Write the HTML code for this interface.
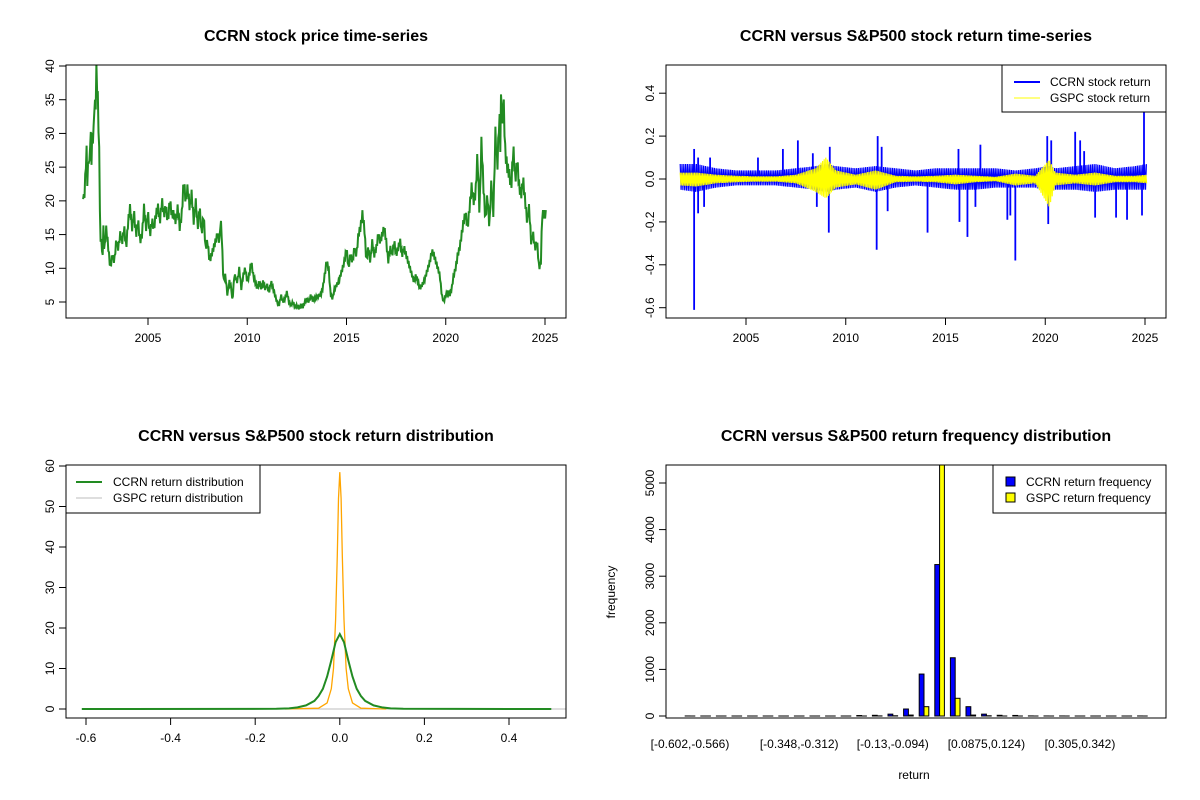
<!DOCTYPE html>
<html><head><meta charset="utf-8"><style>
html,body{margin:0;padding:0;background:#fff;}
svg{display:block;font-family:"Liberation Sans",Arial,sans-serif;}
</style></head><body>
<svg id="fig" width="1200" height="800" viewBox="0 0 1200 800" xmlns="http://www.w3.org/2000/svg">
<defs>
<clipPath id="c1"><rect x="66" y="65" width="500" height="253"/></clipPath>
<clipPath id="c2"><rect x="666" y="65" width="500" height="253"/></clipPath>
<clipPath id="c3"><rect x="66" y="465" width="500" height="253"/></clipPath>
<clipPath id="c4"><rect x="666" y="465" width="500" height="253"/></clipPath>
</defs>
<text x="316" y="41" text-anchor="middle" font-size="16" font-weight="bold">CCRN stock price time-series</text>
<text x="916" y="41" text-anchor="middle" font-size="16" font-weight="bold">CCRN versus S&amp;P500 stock return time-series</text>
<text x="316" y="441" text-anchor="middle" font-size="16" font-weight="bold">CCRN versus S&amp;P500 stock return distribution</text>
<text x="916" y="441" text-anchor="middle" font-size="16" font-weight="bold">CCRN versus S&amp;P500 return frequency distribution</text>
<g id="p1"></g>
<g id="p2"></g>
<g id="p3"></g>
<g id="p4"></g>
</svg>
<script>
// ---- Panel 1 data: CCRN price as [year, price] pairs ----
const priceData = [
[2001.73,21],[2001.78,20],[2001.85,24],[2001.9,28],[2001.95,22],[2002.0,27],[2002.05,25],[2002.1,31],[2002.15,26],[2002.2,30],[2002.25,29],[2002.3,35],[2002.35,33],[2002.4,39],[2002.45,37],[2002.5,32],[2002.55,26],[2002.6,13],
[2002.65,15],[2002.7,10.5],[2002.75,16],[2002.8,12.5],[2002.9,16],[2003.0,13],[2003.1,10],[2003.2,12],[2003.3,11],[2003.4,14],[2003.5,13],[2003.6,15],[2003.7,14],[2003.8,16],[2003.9,13],
[2004.0,17],[2004.1,19],[2004.2,16],[2004.3,18],[2004.4,15],[2004.5,17],[2004.6,14],[2004.7,15],[2004.8,19],[2004.9,16],[2005.0,18],[2005.1,15],[2005.2,17],[2005.3,16],[2005.4,18],[2005.5,19],[2005.6,17],[2005.7,20],[2005.8,18],[2005.9,19],
[2006.0,17],[2006.1,20],[2006.2,18],[2006.3,18],[2006.4,17],[2006.5,19],[2006.6,16],[2006.7,18],[2006.8,23],[2006.9,20],[2007.0,22],[2007.1,19],[2007.2,21],[2007.3,17],[2007.4,20],[2007.5,16],[2007.6,19],[2007.7,15],[2007.8,18],[2007.9,13],
[2008.0,14],[2008.1,11],[2008.2,12],[2008.3,13],[2008.4,14],[2008.5,15],[2008.6,14],[2008.65,17],[2008.7,16],[2008.75,12],[2008.8,8],[2008.9,9],[2009.0,6],[2009.1,8],[2009.2,7],[2009.25,5],[2009.35,9],[2009.5,8],[2009.6,10],[2009.7,7],[2009.8,9],[2009.9,10],
[2010.0,8],[2010.1,9],[2010.2,11],[2010.3,9],[2010.4,8],[2010.5,7],[2010.6,8],[2010.7,7],[2010.8,8],[2010.9,7],[2011.0,7.5],[2011.1,6.5],[2011.2,8],[2011.3,7],[2011.4,6],[2011.5,5],[2011.6,4.5],[2011.7,6],[2011.8,5],[2011.9,5.5],
[2012.0,6.5],[2012.1,5],[2012.2,4.5],[2012.3,5],[2012.4,4.2],[2012.5,4.5],[2012.6,4],[2012.7,4.6],[2012.8,4.2],[2012.9,5],[2013.0,5.5],[2013.1,5],[2013.2,6],[2013.3,5.2],[2013.4,5.5],[2013.5,5.8],[2013.6,6],[2013.7,6],[2013.8,7],[2013.9,9],
[2014.0,11],[2014.1,10],[2014.2,6],[2014.3,5.5],[2014.4,7],[2014.5,7.5],[2014.6,8],[2014.7,9],[2014.8,10],[2014.9,11],[2015.0,13],[2015.1,10],[2015.2,12],[2015.3,11],[2015.4,13],[2015.5,12],[2015.6,15],[2015.7,16],[2015.8,18],[2015.9,16],
[2016.0,11],[2016.1,13],[2016.2,11],[2016.3,14],[2016.4,12],[2016.5,13],[2016.6,15],[2016.7,14],[2016.8,15],[2016.9,16],[2017.0,14],[2017.1,11],[2017.2,13],[2017.3,12],[2017.4,14],[2017.5,12],[2017.6,13],[2017.7,14],[2017.8,12],[2017.9,13],
[2018.0,12],[2018.1,11],[2018.2,10],[2018.3,9],[2018.4,8],[2018.5,9],[2018.6,8],[2018.7,7],[2018.8,7.5],[2018.9,8],[2019.0,9],[2019.1,10],[2019.2,11],[2019.3,12.5],[2019.4,12],[2019.5,11],[2019.6,10],[2019.7,9],[2019.8,6],[2019.9,5],
[2020.0,6],[2020.1,6.5],[2020.2,6],[2020.3,7],[2020.4,9],[2020.5,10],[2020.6,12],[2020.7,13],[2020.8,15],[2020.9,17],[2021.0,18],[2021.1,16],[2021.2,19],[2021.3,22],[2021.4,20],[2021.5,21],[2021.6,27],[2021.7,18],[2021.8,29],[2021.9,22],
[2022.0,17],[2022.1,21],[2022.2,16],[2022.3,23],[2022.4,18],[2022.5,30],[2022.6,25],[2022.7,33],[2022.75,28],[2022.8,38],[2022.85,30],[2022.9,36],[2023.0,27],[2023.1,25],[2023.2,24],[2023.3,22],[2023.4,28],[2023.5,23],[2023.6,26],[2023.7,22],
[2023.8,21],[2023.9,23],[2024.0,20],[2024.1,17],[2024.2,19],[2024.3,14],[2024.4,15],[2024.5,13],[2024.6,14],[2024.7,10],[2024.8,11],[2024.85,18],[2024.95,18],[2025.05,18]];

// ---- Panel 2 data: returns ----
const ccrnSpikeYears = [2002.4,2002.6,2003.2,2005.6,2006.85,2007.6,2008.35,2009.2,2011.6,2011.8,2015.65,2016.75,2020.1,2020.3,2021.5,2021.75,2021.95,2024.95,2002.4,2002.6,2002.9,2008.55,2009.15,2011.55,2012.1,2014.1,2015.7,2016.1,2016.5,2018.1,2018.25,2018.5,2020.15,2022.5,2023.55,2024.1,2024.85];
const ccrnSpikeValues = [0.14,0.10,0.10,0.10,0.14,0.18,0.12,0.15,0.20,0.15,0.14,0.16,0.20,0.18,0.22,0.18,0.13,0.32,-0.61,-0.16,-0.13,-0.13,-0.25,-0.33,-0.15,-0.25,-0.20,-0.27,-0.13,-0.19,-0.17,-0.38,-0.21,-0.18,-0.18,-0.19,-0.17];
const bandYears = [2001.7,2002.5,2003.5,2004.5,2005.5,2006.5,2007.5,2008.5,2009.0,2009.5,2010.5,2011.5,2012.5,2013.5,2014.5,2015.5,2016.5,2017.5,2018.5,2019.5,2020.2,2020.5,2021.5,2022.5,2023.5,2024.5,2025.1];
const ccrnBandUp = [0.07,0.07,0.05,0.04,0.04,0.04,0.05,0.06,0.07,0.06,0.05,0.06,0.05,0.04,0.05,0.05,0.05,0.05,0.04,0.05,0.06,0.05,0.06,0.07,0.05,0.06,0.07];
const ccrnBandDn = [-0.05,-0.06,-0.04,-0.03,-0.03,-0.03,-0.04,-0.05,-0.06,-0.05,-0.04,-0.06,-0.04,-0.03,-0.04,-0.05,-0.05,-0.04,-0.04,-0.04,-0.06,-0.05,-0.05,-0.06,-0.05,-0.05,-0.05];
const gspcBandUp = [0.03,0.03,0.02,0.015,0.012,0.012,0.02,0.05,0.1,0.04,0.02,0.04,0.015,0.012,0.015,0.02,0.015,0.01,0.025,0.015,0.09,0.03,0.02,0.03,0.015,0.015,0.02];
const gspcBandDn = [-0.03,-0.035,-0.02,-0.015,-0.012,-0.012,-0.02,-0.06,-0.09,-0.04,-0.025,-0.05,-0.015,-0.012,-0.015,-0.025,-0.015,-0.01,-0.03,-0.02,-0.13,-0.03,-0.02,-0.03,-0.015,-0.015,-0.02];

// ---- Panel 3 data: densities ----
const ccrnDensX = [-0.61,-0.15,-0.12,-0.1,-0.08,-0.06,-0.05,-0.04,-0.03,-0.02,-0.01,0,0.01,0.02,0.03,0.04,0.05,0.06,0.08,0.1,0.12,0.15,0.5];
const ccrnDensY = [0,0.05,0.15,0.4,0.9,2,3.2,5,8,12,16.5,18.5,16.5,12,8,5,3.2,2,0.9,0.4,0.15,0.05,0];
const gspcDensX = [-0.13,-0.05,-0.03,-0.02,-0.015,-0.01,-0.006,-0.003,0,0.003,0.006,0.01,0.015,0.02,0.03,0.05,0.11];
const gspcDensY = [0,0.2,1.5,5,10,22,38,52,58.5,52,38,22,10,5,1.5,0.2,0];

// ---- Panel 4 data: histogram ----
const binLabels = ["[-0.602,-0.566)","[-0.348,-0.312)","[-0.13,-0.094)","[0.0875,0.124)","[0.305,0.342)"];
const binLabelIdx = [0,7,13,19,25];
const ccrnCounts = [1,0,0,0,0,0,0,0,0,0,0,10,15,40,150,900,3250,1250,200,40,15,12,2,1,1,0,0,0,0,1];
const gspcCounts = [0,0,0,0,0,0,0,0,0,0,0,0,2,5,20,200,5400,380,20,5,0,0,0,0,0,0,0,0,0,0];
const freqTicks = [0,1000,2000,3000,4000,5000];

const NS="http://www.w3.org/2000/svg";
function mk(parent,tag,attrs,txt){const e=document.createElementNS(NS,tag);for(const k in attrs)e.setAttribute(k,attrs[k]);if(txt!==undefined)e.textContent=txt;parent.appendChild(e);return e;}
function box(g,x,y,w,h){const r=mk(g,'rect',{x:x,y:y,width:w,height:h,fill:'none',stroke:'#000','stroke-width':1});

}
function yticks(g,vals,fy,x0,fmt){vals.forEach(v=>{const y=fy(v);mk(g,'line',{x1:x0-7,x2:x0,y1:y,y2:y,stroke:'#000'});
const t=mk(g,'text',{x:x0-12,y:y,'font-size':12,'text-anchor':'middle',transform:`rotate(-90 ${x0-12} ${y})`},fmt?fmt(v):String(v));

});}
function xticks(g,vals,fx,y0,fmt){vals.forEach(v=>{const x=fx(v);mk(g,'line',{x1:x,x2:x,y1:y0,y2:y0+7,stroke:'#000'});
const t=mk(g,'text',{x:x,y:y0+24,'font-size':12,'text-anchor':'middle'},fmt?fmt(v):String(v));

});}
function interp(xs,ys,x){if(x<=xs[0])return ys[0];for(let i=1;i<xs.length;i++){if(x<=xs[i]){const t=(x-xs[i-1])/(xs[i]-xs[i-1]);return ys[i-1]+t*(ys[i]-ys[i-1]);}}return ys[ys.length-1];}

// Panel 1
(function(){const g=document.getElementById('p1');
const fx=y=>148+(y-2005)*19.85, fy=v=>302-(v-5)*236/35;
const xs=priceData.map(p=>p[0]), ys=priceData.map(p=>p[1]);
// dense trace between data points with small vertical wiggle to mimic daily noise
let d='',k=0;
for(let px=fx(xs[0]);px<=fx(xs[xs.length-1]);px+=0.7){const yr=2005+(px-148)/19.85;const v=interp(xs,ys,yr);const w=(k%2?1:-1)*v*0.035;d+=(k===0?'M':'L')+px.toFixed(1)+','+fy(v+w).toFixed(1);k++;}
const pl=mk(g,'path',{d:d,fill:'none',stroke:'#228B22','stroke-width':2,'clip-path':'url(#c1)'});


box(g,66,65,500,253);yticks(g,[5,10,15,20,25,30,35,40],fy,66);xticks(g,[2005,2010,2015,2020,2025],fx,318);})();

// Panel 2
(function(){const g=document.getElementById('p2');
const fx=y=>746+(y-2005)*19.95, fy=v=>179-v*214.5;
const gc=mk(g,'g',{'clip-path':'url(#c2)'});
function band(up,dn,color,w,step){let d='';let k=0;for(let x=fx(2001.7);x<=fx(2025.1);x+=step){const yr=2005+(x-746)/19.95;const v=(k%2===0)?interp(bandYears,up,yr):interp(bandYears,dn,yr);d+=(k===0?'M':'L')+x.toFixed(1)+','+fy(v).toFixed(1);k++;}return mk(gc,'path',{d:d,fill:'none',stroke:color,'stroke-width':w});}
const b1=band(ccrnBandUp,ccrnBandDn,'#0000FF',1.2,0.9);


ccrnSpikeYears.forEach((y,i)=>{const l=mk(gc,'line',{x1:fx(y),x2:fx(y),y1:fy(0),y2:fy(ccrnSpikeValues[i]),stroke:'#0000FF','stroke-width':1.8});

});
const b2=band(gspcBandUp,gspcBandDn,'#FFFF00',1.2,0.8);


box(g,666,65,500,253);yticks(g,[-0.6,-0.4,-0.2,0,0.2,0.4],fy,666,v=>v.toFixed(1));xticks(g,[2005,2010,2015,2020,2025],fx,318);
const lg=mk(g,'g',{});
mk(lg,'rect',{x:1002,y:65,width:164,height:47,fill:'#fff',stroke:'#000'});
mk(lg,'line',{x1:1014,x2:1040,y1:82,y2:82,stroke:'#0000FF','stroke-width':2});
mk(lg,'line',{x1:1014,x2:1040,y1:98,y2:98,stroke:'#FFFF00','stroke-width':1});
mk(lg,'text',{x:1050,y:86,'font-size':12},'CCRN stock return');
mk(lg,'text',{x:1050,y:102,'font-size':12},'GSPC stock return');})();

// Panel 3
(function(){const g=document.getElementById('p3');
const fx=v=>86+(v+0.6)*423, fy=d=>709-d*4.05;
const gc=mk(g,'g',{'clip-path':'url(#c3)'});
mk(gc,'line',{x1:fx(-0.13),x2:566,y1:fy(0),y2:fy(0),stroke:'#bebebe','stroke-width':1});
const o=mk(gc,'polyline',{points:gspcDensX.map((x,i)=>fx(x).toFixed(1)+','+fy(gspcDensY[i]).toFixed(1)).join(' '),fill:'none',stroke:'#FFA500','stroke-width':1.3});


const c=mk(gc,'polyline',{points:ccrnDensX.map((x,i)=>fx(x).toFixed(1)+','+fy(ccrnDensY[i]).toFixed(1)).join(' '),fill:'none',stroke:'#228B22','stroke-width':2});


box(g,66,465,500,253);yticks(g,[0,10,20,30,40,50,60],fy,66);xticks(g,[-0.6,-0.4,-0.2,0,0.2,0.4],fx,718,v=>(v===0?'0.0':v.toFixed(1)));
const lg=mk(g,'g',{});
mk(lg,'rect',{x:66,y:465,width:194,height:48,fill:'#fff',stroke:'#000'});
mk(lg,'line',{x1:76,x2:102,y1:482,y2:482,stroke:'#228B22','stroke-width':2});
mk(lg,'line',{x1:76,x2:102,y1:498,y2:498,stroke:'#bebebe','stroke-width':1});
mk(lg,'text',{x:113,y:486,'font-size':12},'CCRN return distribution');
mk(lg,'text',{x:113,y:502,'font-size':12},'GSPC return distribution');})();

// Panel 4
(function(){const g=document.getElementById('p4');
const fy=c=>716-c*0.0466, fc=i=>690+i*15.6;
const gc=mk(g,'g',{'clip-path':'url(#c4)'});
ccrnCounts.forEach((c,i)=>{const cx=fc(i);
const b=mk(gc,'rect',{x:cx-4.8,y:fy(c),width:4.8,height:Math.max(0.01,fy(0)-fy(c)),fill:'#0000FF',stroke:'#000','stroke-width':1});


const gc2=gspcCounts[i];
const y=mk(gc,'rect',{x:cx,y:fy(gc2),width:4.8,height:Math.max(0.01,fy(0)-fy(gc2)),fill:'#FFFF00',stroke:'#000','stroke-width':1});

});
box(g,666,465,500,253);yticks(g,freqTicks,fy,666);
binLabelIdx.forEach((idx,k)=>{const t=mk(g,'text',{x:fc(idx),y:748,'font-size':12,'text-anchor':'middle'},binLabels[k]);

});
const xl=mk(g,'text',{x:914,y:779,'font-size':12,'text-anchor':'middle'},'return');


const yl=mk(g,'text',{x:615,y:592,'font-size':12,'text-anchor':'middle',transform:'rotate(-90 615 592)'},'frequency');


const lg=mk(g,'g',{});
mk(lg,'rect',{x:993,y:465,width:173,height:48,fill:'#fff',stroke:'#000'});
mk(lg,'rect',{x:1006,y:477,width:9,height:9,fill:'#0000FF',stroke:'#000'});
mk(lg,'rect',{x:1006,y:493,width:9,height:9,fill:'#FFFF00',stroke:'#000'});
mk(lg,'text',{x:1026,y:486,'font-size':12},'CCRN return frequency');
mk(lg,'text',{x:1026,y:502,'font-size':12},'GSPC return frequency');})();
</script>
</body></html>
